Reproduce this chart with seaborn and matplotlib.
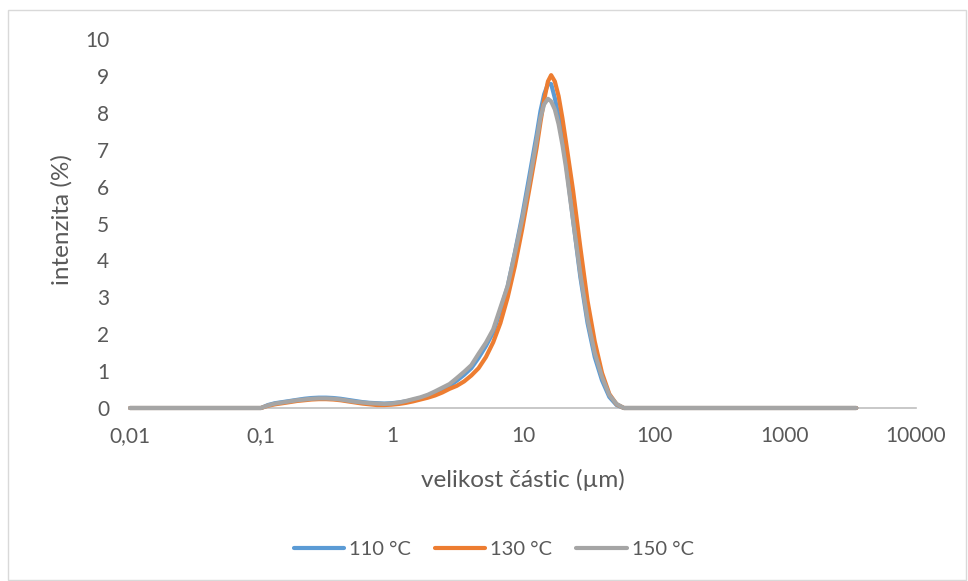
import matplotlib
matplotlib.use("Agg")
import matplotlib.pyplot as plt
import matplotlib.patches as mpatches
from matplotlib.ticker import FixedLocator, FixedFormatter, NullLocator
import seaborn as sns
import pandas as pd

# particle size (µm)
sizes = [0.01, 0.1, 0.113, 0.128, 0.146, 0.166, 0.188, 0.214, 0.243, 0.276, 0.314,
         0.357, 0.405, 0.46, 0.523, 0.594, 0.675, 0.767, 0.872, 0.991, 1.13, 1.28,
         1.45, 1.65, 1.88, 2.13, 2.42, 2.75, 3.12, 3.55, 4.03, 4.58, 5.21, 5.92,
         6.72, 7.64, 8.68, 9.86, 11.2, 12.7, 13.6, 14.5, 15.5, 16.4, 17.5, 18.7,
         20.0, 21.2, 24.1, 27.4, 31.1, 35.3, 40.1, 45.6, 51.8, 58.9, 66.9, 3500]

v110 = [0, 0, 0.08, 0.13, 0.16, 0.19, 0.22, 0.25, 0.27, 0.28, 0.28,
        0.27, 0.25, 0.22, 0.19, 0.16, 0.14, 0.13, 0.12, 0.13, 0.15, 0.18,
        0.22, 0.27, 0.33, 0.41, 0.50, 0.60, 0.74, 0.90, 1.08, 1.36, 1.68, 2.05,
        2.65, 3.30, 4.22, 5.20, 6.30, 7.40, 8.05, 8.50, 8.78, 8.78, 8.40, 7.90,
        7.35, 6.70, 5.10, 3.55, 2.30, 1.38, 0.75, 0.30, 0.08, 0, 0, 0]

v130 = [0, 0, 0.06, 0.10, 0.13, 0.16, 0.19, 0.21, 0.23, 0.24, 0.24,
        0.23, 0.21, 0.18, 0.15, 0.12, 0.10, 0.08, 0.08, 0.09, 0.11, 0.14,
        0.18, 0.23, 0.28, 0.34, 0.42, 0.52, 0.60, 0.72, 0.88, 1.08, 1.38, 1.78,
        2.30, 3.00, 3.85, 4.85, 5.95, 7.05, 7.75, 8.35, 8.85, 9.02, 8.85, 8.45,
        7.85, 7.25, 5.90, 4.35, 2.90, 1.80, 0.95, 0.38, 0.10, 0, 0, 0]

v150 = [0, 0, 0.07, 0.12, 0.15, 0.18, 0.21, 0.23, 0.25, 0.26, 0.26,
        0.25, 0.23, 0.20, 0.17, 0.15, 0.13, 0.12, 0.11, 0.12, 0.15, 0.19,
        0.24, 0.29, 0.36, 0.45, 0.55, 0.65, 0.81, 0.98, 1.16, 1.47, 1.77, 2.13,
        2.72, 3.31, 4.20, 5.11, 6.15, 7.25, 7.87, 8.23, 8.38, 8.31, 8.09, 7.69,
        7.13, 6.56, 5.09, 3.63, 2.40, 1.49, 0.84, 0.35, 0.11, 0, 0, 0]

series_names = ["110 °C", "130 °C", "150 °C"]
colors = ["#5B9BD5", "#ED7D31", "#A5A5A5"]

x_ticks = [0.01, 0.1, 1, 10, 100, 1000, 10000]
x_tick_labels = ["0,01", "0,1", "1", "10", "100", "1000", "10000"]
y_ticks = list(range(0, 11))

df = pd.concat([
    pd.DataFrame({"size": sizes, "value": vals, "series": name})
    for name, vals in zip(series_names, [v110, v130, v150])
], ignore_index=True)

sns.set_theme(style="white")
plt.rcParams["font.family"] = ["Lato", "DejaVu Sans"]
text_color = "#595959"

fig = plt.figure(figsize=(9.68, 5.81), dpi=100)
fig.patches.append(mpatches.Rectangle((8 / 968, 0.002), 958 / 968, (581 - 11.5) / 581,
                                      transform=fig.transFigure, fill=False,
                                      edgecolor="#D9D9D9", linewidth=1.0))
ax = fig.add_axes([130 / 968, 1 - 408 / 581, 786 / 968, 369 / 581])

sns.lineplot(data=df, x="size", y="value", hue="series", palette=colors,
             hue_order=series_names, linewidth=3.0, ax=ax, legend=False,
             estimator=None, sort=False)
for ln in ax.lines:
    ln.set_clip_on(False)
    ln.set_solid_capstyle("round")
    ln.set_solid_joinstyle("round")

ax.set_xscale("log")
ax.set_xlim(0.01, 10000)
ax.set_ylim(0, 10)
ax.xaxis.set_major_locator(FixedLocator(x_ticks))
ax.xaxis.set_major_formatter(FixedFormatter(x_tick_labels))
ax.xaxis.set_minor_locator(NullLocator())
ax.set_yticks(y_ticks)
ax.tick_params(axis="both", length=0, labelsize=15, labelcolor=text_color)
ax.tick_params(axis="x", pad=13)
ax.tick_params(axis="y", pad=15)

for s in ["top", "right", "left"]:
    ax.spines[s].set_visible(False)
ax.spines["bottom"].set_color("#BFBFBF")
ax.spines["bottom"].set_linewidth(1.2)
ax.spines["bottom"].set_zorder(0.5)
ax.grid(False)

ax.set_xlabel("velikost částic (µm)", fontsize=17.5, color=text_color)
ax.set_ylabel("intenzita (%)", fontsize=17.5, color=text_color)
ax.xaxis.label.set_va("center")
ax.xaxis.set_label_coords(0.5, -0.195)
ax.yaxis.label.set_va("center")
ax.yaxis.set_label_coords(-0.087, 0.51)

handles = [plt.Line2D([], [], color=c, linewidth=3) for c in colors]
leg = fig.legend(handles, series_names, loc="center", bbox_to_anchor=(0.51, 1 - 549 / 581),
                 ncol=3, frameon=False, fontsize=14.5, handlelength=2.5,
                 handletextpad=0.25, columnspacing=1.2)
for t in leg.get_texts():
    t.set_color(text_color)

fig.savefig("out.png", dpi=100)
